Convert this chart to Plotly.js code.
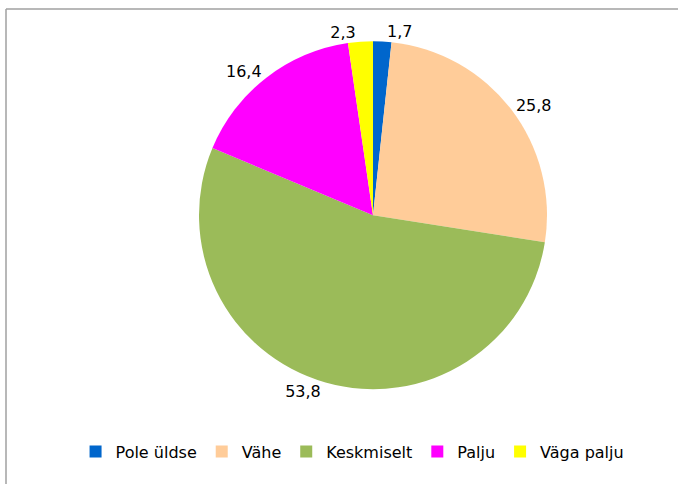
<!DOCTYPE html>
<html>
<head>
<meta charset="utf-8">
<script src="https://cdn.plot.ly/plotly-3.0.1.min.js"></script>
<style>html,body{margin:0;padding:0;background:#fff;}#chart{width:678px;height:484px;}</style>
</head>
<body>
<div id="chart"></div>
<script>
var categories = ["Pole üldse", "Vähe", "Keskmiselt", "Palju", "Väga palju"];
var values = [1.7, 25.8, 53.8, 16.4, 2.3];
var colors = ["#0066CC", "#FFCC99", "#9BBB59", "#FF00FF", "#FFFF00"];

var trace = {
  type: "pie",
  labels: categories,
  values: values,
  sort: false,
  direction: "clockwise",
  rotation: 0,
  marker: {colors: colors, line: {width: 0}},
  textposition: "outside",
  texttemplate: "%{value:.1f}",
  textfont: {family: "DejaVu Sans, Liberation Sans, sans-serif", size: 16, color: "#000"},
  hoverinfo: "label+value",
  domain: {x: [0.2920, 0.8083], y: [0.196, 0.915]},
  showlegend: true
};

var layout = {
  width: 678, height: 484,
  margin: {l: 0, r: 0, t: 0, b: 0},
  paper_bgcolor: "#fff",
  separators: ", ",
  showlegend: true,
  legend: {
    orientation: "h", x: 0.52, xanchor: "center", y: 0.032, yanchor: "bottom",
    font: {family: "DejaVu Sans, Liberation Sans, sans-serif", size: 16, color: "#000"},
    itemwidth: 30, traceorder: "normal"
  },
  shapes: [
    {type: "line", xref: "paper", yref: "paper", x0: 6/678, x1: 1, y0: 1 - 9/484, y1: 1 - 9/484, line: {color: "#A0A0A0", width: 1.5}},
    {type: "line", xref: "paper", yref: "paper", x0: 6/678, x1: 6/678, y0: 1 - 9/484, y1: 0, line: {color: "#A0A0A0", width: 1.5}}
  ]
};

Plotly.newPlot("chart", [trace], layout, {displayModeBar: false, staticPlot: true});
</script>
</body>
</html>
